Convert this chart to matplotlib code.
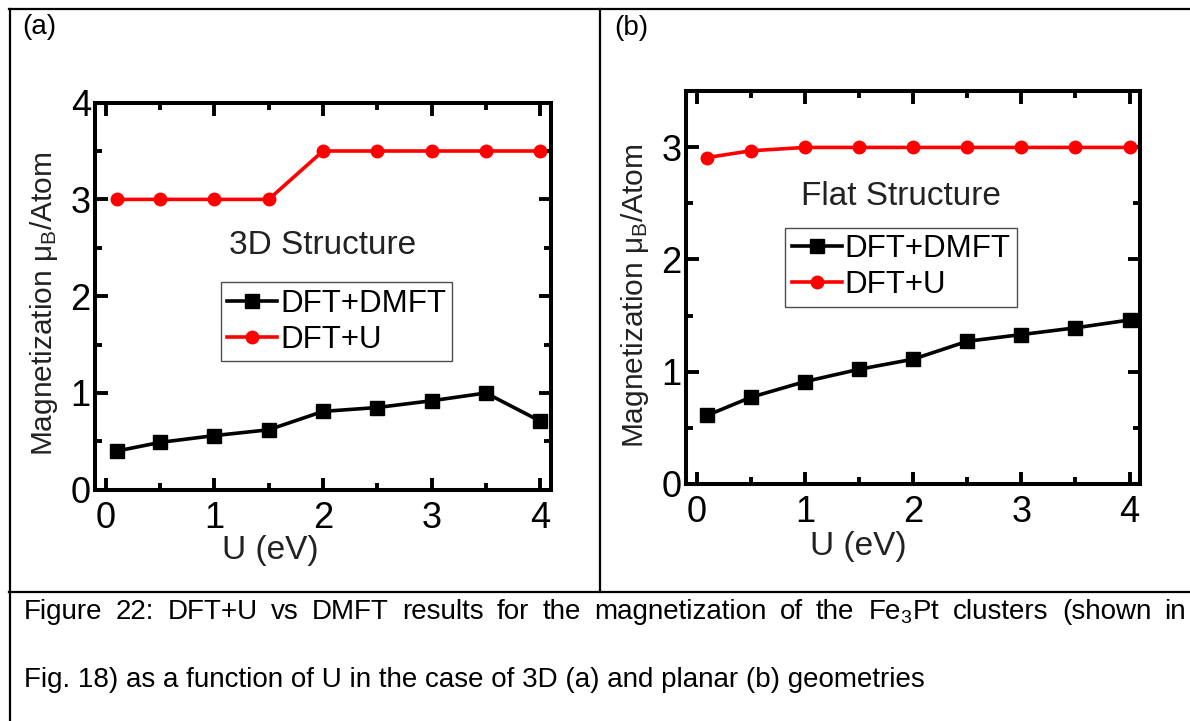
import matplotlib
matplotlib.use("Agg")
import matplotlib.pyplot as plt
from matplotlib.lines import Line2D
from matplotlib.ticker import MultipleLocator

plt.rcParams['font.family'] = ['Liberation Sans', 'DejaVu Sans']
plt.rcParams['mathtext.fontset'] = 'custom'
plt.rcParams['mathtext.rm'] = 'Liberation Sans'
plt.rcParams['mathtext.it'] = 'Liberation Sans'
plt.rcParams['mathtext.bf'] = 'Liberation Sans:bold'

# U values (eV), shared by both panels
u_vals = [0.1, 0.5, 1.0, 1.5, 2.0, 2.5, 3.0, 3.5, 4.0]

# (a) 3D structure
dmft_3d = [0.40, 0.49, 0.56, 0.62, 0.81, 0.85, 0.92, 1.00, 0.71]
dftu_3d = [3.0, 3.0, 3.0, 3.0, 3.5, 3.5, 3.5, 3.5, 3.5]

# (b) flat structure
dmft_flat = [0.61, 0.77, 0.91, 1.02, 1.11, 1.27, 1.33, 1.39, 1.46]
dftu_flat = [2.91, 2.97, 3.0, 3.0, 3.0, 3.0, 3.0, 3.0, 3.0]

caption_1 = "Figure 22: DFT+U vs DMFT results for the magnetization of the Fe$_3$Pt clusters (shown in"
caption_2 = "Fig. 18) as a function of U in the case of 3D (a) and planar (b) geometries"

W, H = 1190, 721
fig = plt.figure(figsize=(W / 100, H / 100), dpi=100)


def px(x0, y0, x1, y1):
    # pixel box -> figure rect
    return [x0 / W, 1 - y1 / H, (x1 - x0) / W, (y1 - y0) / H]


def panel(ax, dmft, dftu, ymax, title, title_xy, leg_xy, xlab_xy):
    ax.plot(u_vals, dmft, color='black', lw=2.6, marker='s', ms=9.5, label='DFT+DMFT')
    ax.plot(u_vals, dftu, color='red', lw=2.6, marker='o', ms=9, label='DFT+U')
    ax.set_xlim(-0.1, 4.1)
    ax.set_ylim(0, ymax)
    ax.xaxis.set_major_locator(MultipleLocator(1))
    ax.xaxis.set_minor_locator(MultipleLocator(0.5))
    ax.yaxis.set_major_locator(MultipleLocator(1))
    ax.yaxis.set_minor_locator(MultipleLocator(0.5))
    ax.tick_params(which='both', direction='in', top=True, right=True, width=2.8)
    ax.tick_params(which='major', length=9, labelsize=26)
    ax.tick_params(which='minor', length=5)
    ax.tick_params(axis='x', pad=8)
    ax.tick_params(axis='y', pad=3)
    for s in ax.spines.values():
        s.set_linewidth(2.9)
    ax.set_xlabel('U (eV)', fontsize=24, color='#222222')
    ax.xaxis.set_label_coords(*xlab_xy)
    ax.set_ylabel('Magnetization $\\mu_{\\mathrm{B}}$/Atom', fontsize=21.5, color='#222222')
    ax.yaxis.set_label_coords(-0.076, 0.48)
    ax.text(*title_xy, title, transform=ax.transAxes, fontsize=24,
            ha='center', va='center', color='#222222')
    leg = ax.legend(loc='upper left', bbox_to_anchor=leg_xy, fontsize=22.5,
                    frameon=True, fancybox=False, borderaxespad=0,
                    handlelength=1.6, handletextpad=0.1, labelspacing=0.2,
                    borderpad=0.2)
    leg.get_frame().set_edgecolor('#222222')
    leg.get_frame().set_linewidth(1.0)


ax_a = fig.add_axes(px(95, 102.6, 551, 489.8))
panel(ax_a, dmft_3d, dftu_3d, 4, '3D Structure', (0.5, 0.632), (0.276, 0.536), (0.384, -0.118))

ax_b = fig.add_axes(px(685.8, 91.4, 1140.4, 483.6))
panel(ax_b, dmft_flat, dftu_flat, 3.5, 'Flat Structure', (0.473, 0.731), (0.219, 0.652), (0.38, -0.12))

fig.text(22 / W, 1 - 14 / H, '(a)', fontsize=20, va='top', ha='left')
fig.text(614 / W, 1 - 15 / H, '(b)', fontsize=20, va='top', ha='left')

# table borders around the two panels and the caption
def hline(y, x0, x1):
    fig.add_artist(Line2D([x0 / W, x1 / W], [1 - y / H, 1 - y / H], color='black', lw=1.6,
                          transform=fig.transFigure))


def vline(x, y0, y1):
    fig.add_artist(Line2D([x / W, x / W], [1 - y0 / H, 1 - y1 / H], color='black', lw=1.6,
                          transform=fig.transFigure))


hline(9, 9, W)
hline(592, 9, W)
vline(9.5, 9, H)
vline(600, 9, 592)

# caption: first line justified across the cell, last line left aligned
cap_size = 20
renderer = fig.canvas.get_renderer()


def justified(line, x0, x1, y):
    words = line.split(' ')
    texts = [fig.text(0, 1 - y / H, w, fontsize=cap_size, va='baseline', ha='left')
             for w in words]
    widths = [t.get_window_extent(renderer).width for t in texts]
    gap = ((x1 - x0) - sum(widths)) / (len(words) - 1)
    x = x0
    for t, w in zip(texts, widths):
        t.set_x(x / W)
        x += w + gap


justified(caption_1, 24, 1186, 619)
fig.text(24 / W, 1 - 687 / H, caption_2, fontsize=cap_size, va='baseline', ha='left')

fig.savefig('out.png', dpi=100)
